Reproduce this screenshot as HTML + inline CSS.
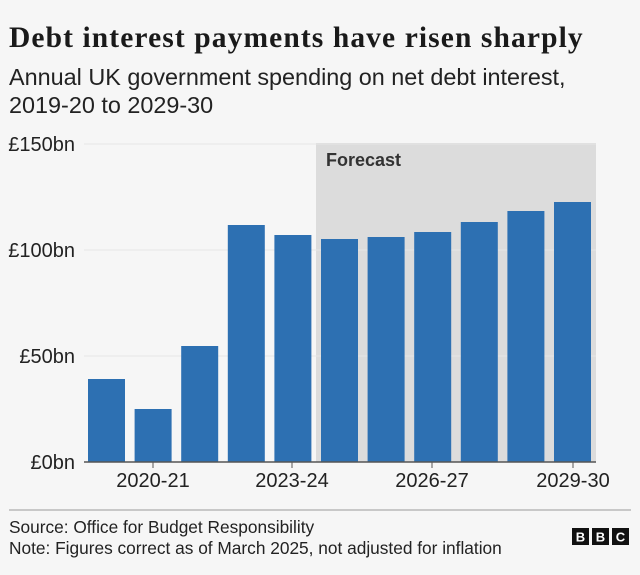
<!DOCTYPE html>
<html><head><meta charset="utf-8"><style>
body{margin:0;width:640px;height:575px;background:#f6f6f6;font-family:"Liberation Sans",sans-serif;color:#222;overflow:hidden;position:relative}
.t{position:absolute;left:9px;top:22px;font-family:"Liberation Serif",serif;font-weight:bold;font-size:29.5px;color:#1a1a1a;letter-spacing:1.1px;white-space:nowrap}
.s{position:absolute;left:9px;top:63px;font-size:23.4px;line-height:28px;color:#222;white-space:nowrap}
.f{position:absolute;left:9px;font-size:17.3px;color:#222;white-space:nowrap}
</style></head><body>
<div class="t">Debt interest payments have risen sharply</div>
<div class="s">Annual UK government spending on net debt interest,<br>2019-20 to 2029-30</div>
<svg width="640" height="575" style="position:absolute;left:0;top:0">
<rect x="316" y="143" width="280" height="319" fill="#dcdcdc"/>
<g stroke="#e6e6e6" stroke-width="1"><line x1="84" y1="144" x2="596" y2="144"/><line x1="84" y1="250" x2="596" y2="250"/><line x1="84" y1="356" x2="596" y2="356"/></g>
<text x="326" y="166" font-size="18" font-weight="bold" fill="#333" font-family="Liberation Sans">Forecast</text>
<g fill="#2d70b2">
<rect x="88" y="379" width="37" height="83"/>
<rect x="134.6" y="409" width="37" height="53"/>
<rect x="181.2" y="346" width="37" height="116"/>
<rect x="227.8" y="225" width="37" height="237"/>
<rect x="274.4" y="235" width="37" height="227"/>
<rect x="321" y="239" width="37" height="223"/>
<rect x="367.6" y="237" width="37" height="225"/>
<rect x="414.2" y="232" width="37" height="230"/>
<rect x="460.8" y="222" width="37" height="240"/>
<rect x="507.4" y="211" width="37" height="251"/>
<rect x="554" y="202" width="37" height="260"/>
</g>
<line x1="84" y1="462" x2="596" y2="462" stroke="#555" stroke-width="1.5"/>
<g stroke="#555" stroke-width="1"><line x1="153" y1="462" x2="153" y2="468"/><line x1="292" y1="462" x2="292" y2="468"/><line x1="432" y1="462" x2="432" y2="468"/><line x1="573" y1="462" x2="573" y2="468"/></g>
<g font-size="20" fill="#222" font-family="Liberation Sans" text-anchor="end">
<text x="75" y="151">£150bn</text><text x="75" y="257">£100bn</text><text x="75" y="363">£50bn</text><text x="75" y="469">£0bn</text>
</g>
<g font-size="20" fill="#222" font-family="Liberation Sans" text-anchor="middle">
<text x="153" y="487">2020-21</text><text x="292" y="487">2023-24</text><text x="432" y="487">2026-27</text><text x="573" y="487">2029-30</text>
</g>
<line x1="9" y1="510" x2="631" y2="510" stroke="#999" stroke-width="1"/>
<g font-family="Liberation Sans" font-weight="bold" font-size="13" fill="#fff" text-anchor="middle">
<rect x="572" y="528" width="17" height="17" fill="#111"/><text x="580.5" y="541.5">B</text>
<rect x="592" y="528" width="17" height="17" fill="#111"/><text x="600.5" y="541.5">B</text>
<rect x="612" y="528" width="17" height="17" fill="#111"/><text x="620.5" y="541.5">C</text>
</g>
</svg>
<div class="f" style="top:517px">Source: Office for Budget Responsibility</div>
<div class="f" style="top:538px">Note: Figures correct as of March 2025, not adjusted for inflation</div>
</body></html>
